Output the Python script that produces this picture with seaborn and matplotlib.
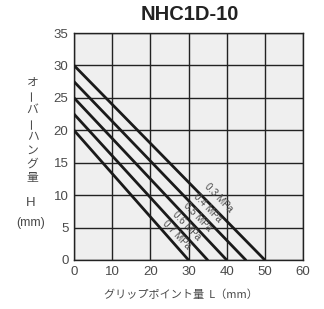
import matplotlib
matplotlib.use("Agg")
import matplotlib.pyplot as plt
import seaborn as sns
import pandas as pd
import numpy as np

# ---- data ----
pressures = ["0.3 MPa", "0.4 MPa", "0.5 MPa", "0.6 MPa", "0.7 MPa"]
h_intercept = [30.0, 27.5, 25.0, 22.5, 20.0]   # overhang H at L=0
l_intercept = [50.0, 45.0, 40.0, 35.0, 30.0]   # grip point L at H=0
label_x = [37.8, 34.9, 32.3, 29.6, 26.8]
label_y = [9.6, 8.05, 6.65, 5.25, 3.85]
x_ticks = [0, 10, 20, 30, 40, 50, 60]
y_ticks = [0, 5, 10, 15, 20, 25, 30, 35]
title = "NHC1D-10"
ylabel_chars = ["オ", "ー", "バ", "ー", "ハ", "ン", "グ", "量"]
xlabel = "グリップポイント量  L（mm）"

rows = []
for p, h, l in zip(pressures, h_intercept, l_intercept):
    rows.append({"L": 0.0, "H": h, "p": p})
    rows.append({"L": l, "H": 0.0, "p": p})
df = pd.DataFrame(rows)

sns.set_theme(style="white")
plt.rcParams["font.family"] = ["Liberation Sans", "Noto Sans CJK JP", "DejaVu Sans"]

fig = plt.figure(figsize=(3.24, 3.09), dpi=100)
ax = fig.add_axes([74/324, 1 - 260/309, (303-74)/324, (260-33)/309])
ax.set_facecolor("#efefef")

sns.lineplot(data=df, x="L", y="H", hue="p", palette=["#1a1a1a"]*5,
             linewidth=2.0, legend=False, ax=ax, zorder=3)

ax.set_xlim(0, 60)
ax.set_ylim(0, 35)
ax.set_xticks(x_ticks)
ax.set_yticks(y_ticks)
ax.set_xticklabels([str(t) for t in x_ticks])
ax.set_yticklabels([str(t) for t in y_ticks])
ax.tick_params(axis="both", length=0, labelsize=9.5, labelcolor="#4a4a4a", pad=4)
ax.grid(True, color="#222222", linewidth=1.0, zorder=1)
ax.set_axisbelow(True)
for s in ax.spines.values():
    s.set_color("#222222")
    s.set_linewidth(1.0)
ax.set_xlabel("")
ax.set_ylabel("")

for p, x, y in zip(pressures, label_x, label_y):
    ax.text(x, y, p, rotation=-46, rotation_mode="anchor", ha="center", va="center",
            fontsize=7, color="#4a4a4a", zorder=4,
            family=["Liberation Sans", "DejaVu Sans"])

fig.text(190/324, 1 - 15/309, title, ha="center", va="center",
         fontsize=14.5, fontweight="bold", color="#222222",
         family=["Liberation Sans", "DejaVu Sans"])

cjk = ["Noto Sans CJK JP", "DejaVu Sans"]
y0 = 82
for i, ch in enumerate(ylabel_chars):
    rot = 90 if ch == "ー" else 0
    fig.text(32.5/324, 1 - (y0 + i*13.6)/309, ch, ha="center", va="center",
             fontsize=8.5, color="#4a4a4a", rotation=rot, family=cjk)
fig.text(31/324, 1 - 203/309, "H", ha="center", va="center",
         fontsize=9.5, color="#4a4a4a", family=["Liberation Sans", "DejaVu Sans"])
fig.text(31/324, 1 - 223/309, "(mm)", ha="center", va="center",
         fontsize=9, color="#4a4a4a", family=["Liberation Sans", "DejaVu Sans"])

fig.text(181/324, 1 - 295/309, xlabel, ha="center", va="center",
         fontsize=8, color="#4a4a4a", family=cjk)

fig.savefig("out.png", dpi=100)
